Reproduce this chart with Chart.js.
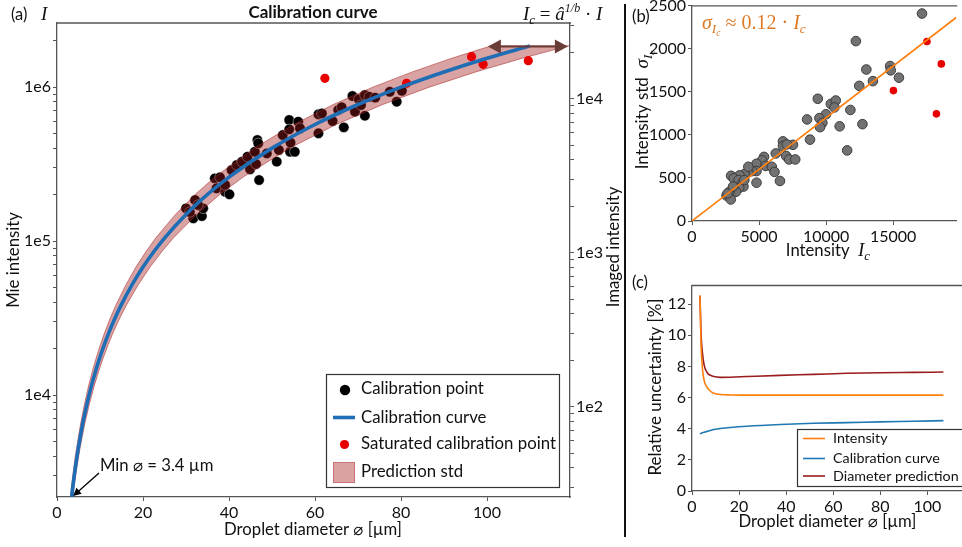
<!DOCTYPE html>
<html>
<head>
<meta charset="utf-8">
<script src="https://cdn.jsdelivr.net/npm/chart.js@4.4.1/dist/chart.umd.min.js"></script>
<style>
  body { margin: 0; background: #fff; width: 962px; height: 547px; overflow: hidden; position: relative; }
  canvas { position: absolute; }
  #sep { position: absolute; left: 624px; top: 4px; width: 2px; height: 533px; background: #111; }
</style>
</head>
<body>
<canvas id="cA" width="625" height="547" style="left:0;top:0"></canvas>
<div id="sep"></div>
<canvas id="cB" width="332" height="270" style="left:630px;top:0"></canvas>
<canvas id="cC" width="332" height="277" style="left:630px;top:270px"></canvas>
<script>
// ---------- panel (a): calibration curve ----------
const calibD = [30.0, 32.1, 31.7, 33.7, 34.0, 30.9, 32.8, 36.7, 37.9, 37.1,
                39.1, 40.1, 39.1, 40.6, 41.8, 43.0, 44.3, 44.9, 46.0, 46.3,
                46.6, 46.8, 47.0, 48.8, 51.1, 51.6, 52.5, 54.2, 55.3, 54.3,
                54.0, 54.0, 56.1, 56.5, 60.8, 60.8, 61.6, 64.1, 65.4, 66.2,
                66.7, 68.7, 69.3, 70.2, 70.7, 71.6, 71.6, 72.6, 74.0, 77.4,
                79.0, 80.2];
const calibI = [163000, 184500, 140300, 145200, 163000, 154300, 171400, 255300, 259200, 219900,
                209000, 201000, 231000, 289000, 311600, 327500, 352600, 292500, 380000, 316000,
                452900, 431000, 248800, 370700, 327500, 390000, 487500, 380000, 380000, 435500,
                610900, 531000, 595600, 539700, 665000, 500400, 674700, 601000, 709700, 738700,
                547000, 874000, 691500, 832000, 764000, 651300, 887000, 865000, 853000, 931300,
                803000, 946000];
const satD = [62.3, 81.3, 96.4, 99.1, 109.6];
const satI = [1138000, 1057000, 1574000, 1403000, 1482000];

const curveD = [3.4, 3.7, 4, 4.5, 5, 6, 7, 8, 9, 10, 11, 12, 13.5, 15, 17.5, 20, 22.5, 25, 30, 35,
                40, 50, 60, 70, 80, 90, 100, 110];
const curveI = [2180, 2565, 2985, 3750, 4600, 6560, 8835, 11460, 14390, 17650, 21240, 25150, 31600, 38780,
                52250, 67730, 85150, 104500, 148800, 200600, 260000, 400900, 571000, 769700, 997700,
                1253000, 1538000, 1850000];
// prediction std band: diameter range at each intensity of the curve
const bandLoD = [3.12, 3.40, 3.67, 4.13, 4.59, 5.51, 6.43, 7.34, 8.26, 9.18, 10.10, 11.02, 12.39, 13.77,
                 16.07, 18.36, 20.66, 22.95, 27.54, 32.13, 36.72, 45.9, 55.08, 64.26, 73.44, 82.62, 91.8, 100.98];
const bandHiD = [3.68, 4.00, 4.33, 4.87, 5.41, 6.49, 7.57, 8.66, 9.74, 10.82, 11.90, 12.98, 14.61, 16.23,
                 18.94, 21.64, 24.35, 27.05, 32.46, 37.87, 43.28, 54.1, 64.92, 75.74, 86.56, 97.38, 108.2, 119.02];

const xTicksA = [0, 20, 40, 60, 80, 100];
const yTicksA = [1e4, 1e5, 1e6];
const yLabelsA = ['1e4', '1e5', '1e6'];
const y2TicksA = [1e2, 1e3, 1e4];
const y2LabelsA = ['1e2', '1e3', '1e4'];
const yMinA = 2177, yMaxA = 2.604e6, imgFactor = 0.0119;
const minD = 3.4, arrowD = [100.2, 118.8], arrowI = 1.83e6;

// ---------- panel (b): intensity std ----------
const grayIc = [17150, 12220, 14770, 14820, 13000, 12470, 13490, 15430, 9380, 10350,
                10720, 10620, 9990, 9500, 8580, 9720, 9550, 11810, 11010, 12710,
                11570, 8800, 6780, 6780, 7530, 7070, 7020, 7240, 7700, 6245,
                5370, 5225, 4810, 5490, 5950, 6150, 6560, 4810, 4810, 4500,
                4200, 3910, 3550, 2915, 3110, 3475, 3720, 3840, 3520, 3280,
                2800, 2575, 2890, 2650, 3060, 4200, 3900];
const graySd = [2410, 2090, 1800, 1750, 1760, 1570, 1625, 1665, 1420, 1360,
                1400, 1320, 1240, 1195, 1180, 1140, 1090, 1290, 1100, 1125,
                820, 945, 925, 870, 885, 890, 755, 715, 715, 785,
                745, 705, 665, 640, 630, 570, 465, 445, 580, 580,
                565, 545, 530, 525, 495, 475, 435, 400, 385, 340,
                340, 295, 250, 320, 400, 630, 475];
const redIc = [17520, 18590, 15020, 18225];
const redSd = [2085, 1825, 1515, 1245];
const fitIc = [0, 19700];
const fitSd = [0, 2364];
const xTicksB = [0, 5000, 10000, 15000];
const yTicksB = [0, 500, 1000, 1500, 2000, 2500];

// ---------- panel (c): relative uncertainty ----------
const uncD = [3.4, 3.8, 4.4, 5.2, 6.4, 7.1, 8.5, 9.2, 12, 16.4, 23.3, 37.5, 51.6, 65.8, 79.9, 94.1, 106.8];
const uncIntensity = [12.55, 9.62, 7.92, 7.07, 6.65, 6.52, 6.33, 6.28, 6.20, 6.17, 6.16, 6.16, 6.16, 6.16, 6.16, 6.16, 6.16];
const uncCalib = [3.67, 3.70, 3.74, 3.78, 3.83, 3.86, 3.92, 3.95, 4.01, 4.08, 4.16, 4.27, 4.35, 4.39, 4.44, 4.48, 4.52];
const uncDiameter = [12.55, 10.25, 8.9, 8.05, 7.62, 7.49, 7.39, 7.35, 7.30, 7.31, 7.35, 7.43, 7.49, 7.56, 7.60, 7.62, 7.64];
const xTicksC = [0, 20, 40, 60, 80, 100];
const yTicksC = [0, 2, 4, 6, 8, 10, 12];

// ---------- styling helpers ----------
const SANS = 'Lato, "DejaVu Sans", sans-serif';
const SERIF = '"Liberation Serif", "DejaVu Serif", serif';
const INK = '#111';
const SPINE = '#555';
const BLUE = '#1f6db5';
Chart.defaults.font.family = SANS;
Chart.defaults.color = INK;

const sans = (size, w) => (w ? w + ' ' : '') + size + 'px ' + SANS;
const ital = size => 'italic ' + size + 'px ' + SERIF;
const rom = size => size + 'px ' + SERIF;

function pts(xs, ys) { return xs.map((x, i) => ({ x, y: ys[i] })); }

function logMarks(min, max) {
  const out = [];
  for (let e = Math.floor(Math.log10(min)); e <= Math.ceil(Math.log10(max)); e++) {
    for (let k = 1; k < 10; k++) {
      const v = k * Math.pow(10, e);
      if (v >= min && v <= max) out.push(v);
    }
  }
  return out;
}

function axis(type, position, min, max, marks, labelOf, size) {
  return {
    type, position, min, max,
    grid: { drawOnChartArea: false, drawTicks: true, tickLength: 4, color: SPINE, lineWidth: 1 },
    border: { display: true, color: SPINE, width: 1.3 },
    ticks: { color: INK, font: { size: 16, family: SANS }, padding: 2, autoSkip: false, maxRotation: 0,
             callback: v => labelOf(v) },
    afterBuildTicks: s => { s.ticks = marks.map(v => ({ value: v })); },
    afterFit: s => {
      if (s.isHorizontal()) s.height = size; else s.width = size;
      s.paddingLeft = s.paddingRight = s.paddingTop = s.paddingBottom = 0;
    }
  };
}
function lookup(vals, labels) {
  return v => {
    const i = vals.findIndex(t => Math.abs(t - v) <= Math.abs(t) * 1e-6);
    return i >= 0 ? (labels ? labels[i] : String(vals[i])) : '';
  };
}

function label(ctx, s, x, y, font, align, color, rot) {
  ctx.save();
  ctx.translate(x, y);
  if (rot) ctx.rotate(rot);
  ctx.font = font;
  ctx.fillStyle = color || INK;
  ctx.textAlign = align || 'left';
  ctx.textBaseline = 'middle';
  ctx.fillText(s, 0, 0);
  ctx.restore();
}
// draws a run of [text, font, dy] pieces on a common baseline
function runs(ctx, parts, x, y, align, color) {
  ctx.save();
  ctx.fillStyle = color || INK;
  ctx.textAlign = 'left';
  ctx.textBaseline = 'alphabetic';
  let w = 0;
  parts.forEach(p => { ctx.font = p[1]; w += ctx.measureText(p[0]).width; });
  let cx = align === 'center' ? x - w / 2 : x;
  parts.forEach(p => {
    ctx.font = p[1];
    ctx.fillText(p[0], cx, y + (p[2] || 0));
    cx += ctx.measureText(p[0]).width;
  });
  ctx.restore();
}
function head(ctx, x0, y0, x1, y1, len, half) {
  const a = Math.atan2(y1 - y0, x1 - x0);
  const bx = x1 - len * Math.cos(a), by = y1 - len * Math.sin(a);
  ctx.beginPath();
  ctx.moveTo(x1, y1);
  ctx.lineTo(bx + half * Math.sin(a), by - half * Math.cos(a));
  ctx.lineTo(bx - half * Math.sin(a), by + half * Math.cos(a));
  ctx.closePath();
  ctx.fill();
}
function topSpine(chart) {
  const { ctx, chartArea: a } = chart;
  ctx.save();
  ctx.strokeStyle = SPINE;
  ctx.lineWidth = 1.3;
  ctx.beginPath();
  ctx.moveTo(a.left, a.top);
  ctx.lineTo(a.right + 1, a.top);
  ctx.stroke();
  ctx.restore();
}

const base = {
  responsive: false, animation: false, devicePixelRatio: 1, events: [],
  plugins: { legend: { display: false }, tooltip: { enabled: false } }
};

// ---------- chart (a) ----------
const bandShape = pts(bandLoD, curveI).concat(pts(bandHiD, curveI).reverse());

new Chart(document.getElementById('cA'), {
  type: 'scatter',
  data: {
    datasets: [
      { type: 'scatter', data: pts(calibD, calibI), backgroundColor: '#000', borderColor: 'rgba(255,255,255,0.7)',
        borderWidth: 0.6, pointRadius: 5.2, fill: false, order: 4 },
      { type: 'line', data: bandShape, fill: 'shape', backgroundColor: 'rgba(160,25,25,0.4)',
        borderColor: 'rgba(170,40,40,0.55)', borderWidth: 1, pointRadius: 0, tension: 0, order: 3 },
      { type: 'scatter', data: pts(satD, satI), backgroundColor: '#e80000', borderColor: '#e80000',
        borderWidth: 0, pointRadius: 4.6, fill: false, order: 2 },
      { type: 'line', data: pts(curveD, curveI), borderColor: BLUE, borderWidth: 3.6, pointRadius: 0,
        cubicInterpolationMode: 'monotone', fill: false, order: 1 }
    ]
  },
  options: Object.assign({}, base, {
    layout: { padding: { top: 23, left: 0, right: 0, bottom: 0 } },
    scales: {
      x: axis('linear', 'bottom', 0, 119.3, xTicksA, lookup(xTicksA), 50),
      y: axis('logarithmic', 'left', yMinA, yMaxA, logMarks(yMinA, yMaxA), lookup(yTicksA, yLabelsA), 57),
      y2: axis('logarithmic', 'right', yMinA * imgFactor, yMaxA * imgFactor,
               logMarks(yMinA * imgFactor, yMaxA * imgFactor), lookup(y2TicksA, y2LabelsA), 55)
    }
  }),
  plugins: [{
    id: 'decorA',
    afterDraw(chart) {
      const { ctx, scales: { x, y } } = chart;
      topSpine(chart);
      label(ctx, '(a)', 11, 15, sans(16.5));
      runs(ctx, [['I', ital(19)]], 41, 20);
      label(ctx, 'Calibration curve', 313, 13, sans(17, 'bold'), 'center');
      runs(ctx, [['I', ital(19)], ['c', ital(13), 4], [' = ', rom(19)], ['â', ital(19)],
                 ['1/b', ital(12), -8], [' · ', rom(19)], ['I', ital(19)]], 523, 20);
      label(ctx, 'Mie intensity', 14, 260, sans(16.7), 'center', INK, -Math.PI / 2);
      label(ctx, 'Imaged intensity', 614, 247, sans(16.7), 'center', INK, -Math.PI / 2);
      label(ctx, 'Droplet diameter ⌀ [µm]', 313, 530, sans(16.7), 'center');

      // minimum diameter annotation
      label(ctx, 'Min ⌀ = 3.4 µm', 100, 466, sans(16.7));
      const tx = x.getPixelForValue(minD) + 1.5, ty = y.getPixelForValue(yMinA) - 1;
      ctx.save();
      ctx.strokeStyle = '#000'; ctx.fillStyle = '#000'; ctx.lineWidth = 1.3;
      ctx.beginPath(); ctx.moveTo(99, 473); ctx.lineTo(tx + 4, ty - 3.5); ctx.stroke();
      head(ctx, 99, 473, tx, ty, 8, 4);
      ctx.restore();

      // double arrow at the top of the prediction band
      const ax0 = x.getPixelForValue(arrowD[0]), ax1 = x.getPixelForValue(arrowD[1]);
      const ay = y.getPixelForValue(arrowI);
      ctx.save();
      ctx.strokeStyle = '#6a3c38'; ctx.fillStyle = '#6a3c38'; ctx.lineWidth = 2;
      ctx.beginPath(); ctx.moveTo(ax0 + 8, ay); ctx.lineTo(ax1 - 8, ay); ctx.stroke();
      head(ctx, ax1, ay, ax0, ay, 13, 7);
      head(ctx, ax0, ay, ax1, ay, 13, 7);
      ctx.restore();

      // legend
      ctx.save();
      ctx.fillStyle = '#fff'; ctx.fillRect(326, 374, 233, 113);
      ctx.strokeStyle = '#333'; ctx.lineWidth = 1.2; ctx.strokeRect(326.5, 374.5, 233, 113);
      ctx.fillStyle = '#000'; ctx.beginPath(); ctx.arc(345, 390, 5.2, 0, Math.PI * 2); ctx.fill();
      ctx.strokeStyle = BLUE; ctx.lineWidth = 3.6;
      ctx.beginPath(); ctx.moveTo(333, 417.5); ctx.lineTo(355, 417.5); ctx.stroke();
      ctx.fillStyle = '#e80000'; ctx.beginPath(); ctx.arc(344.5, 444.5, 4.6, 0, Math.PI * 2); ctx.fill();
      ctx.fillStyle = '#d9a3a3'; ctx.fillRect(333, 462, 22, 21);
      ctx.strokeStyle = '#c87474'; ctx.lineWidth = 1; ctx.strokeRect(333.5, 462.5, 21, 20);
      ctx.restore();
      label(ctx, 'Calibration point', 361, 389, sans(16.8));
      label(ctx, 'Calibration curve', 361, 418, sans(16.8));
      label(ctx, 'Saturated calibration point', 361, 444, sans(16.8));
      label(ctx, 'Prediction std', 361, 472, sans(16.8));
    }
  }]
});

// ---------- chart (b) ----------
new Chart(document.getElementById('cB'), {
  type: 'scatter',
  data: {
    datasets: [
      { type: 'line', data: pts(fitIc, fitSd), borderColor: '#ff7f0e', borderWidth: 1.6, pointRadius: 0,
        fill: false, order: 1 },
      { type: 'scatter', data: pts(grayIc, graySd), backgroundColor: '#727272', borderColor: '#3c3c3c',
        borderWidth: 1, pointRadius: 4.8, fill: false, order: 3 },
      { type: 'scatter', data: pts(redIc, redSd), backgroundColor: '#e80000', borderColor: '#e80000',
        borderWidth: 0, pointRadius: 3.8, fill: false, order: 2 }
    ]
  },
  options: Object.assign({}, base, {
    layout: { padding: { top: 5, left: 0, right: 0, bottom: 0 } },
    scales: {
      x: axis('linear', 'bottom', 0, 19700, xTicksB, lookup(xTicksB), 49),
      y: axis('linear', 'left', 0, 2500, yTicksB, lookup(yTicksB), 62)
    }
  }),
  plugins: [{
    id: 'decorB',
    afterDraw(chart) {
      const { ctx } = chart;
      topSpine(chart);
      label(ctx, '(b)', 2, 17, sans(16.5));
      runs(ctx, [['σ', ital(20)], ['I', ital(13.5), 4], ['c', ital(9.5), 7], [' ≈ 0.12 · ', rom(20)],
                 ['I', ital(20)], ['c', ital(13.5), 4]], 72, 29, 'left', '#dd7a26');
      runs(ctx, [['Intensity  ', sans(16.7)], ['I', ital(19)], ['c', ital(13), 4]], 198, 256, 'center');
      ctx.save();
      ctx.translate(13, 110);
      ctx.rotate(-Math.PI / 2);
      runs(ctx, [['Intensity std  ', sans(17)], ['σ', ital(19)], ['I', ital(13), 4], ['c', ital(9), 7]], 0, 5, 'center');
      ctx.restore();
    }
  }]
});

// ---------- chart (c) ----------
new Chart(document.getElementById('cC'), {
  type: 'scatter',
  data: {
    datasets: [
      { type: 'line', data: pts(uncD, uncIntensity), borderColor: '#ff7f0e', borderWidth: 1.6, pointRadius: 0,
        cubicInterpolationMode: 'monotone', fill: false },
      { type: 'line', data: pts(uncD, uncCalib), borderColor: '#1f77b4', borderWidth: 1.6, pointRadius: 0,
        cubicInterpolationMode: 'monotone', fill: false },
      { type: 'line', data: pts(uncD, uncDiameter), borderColor: '#9a1c1c', borderWidth: 1.6, pointRadius: 0,
        cubicInterpolationMode: 'monotone', fill: false }
    ]
  },
  options: Object.assign({}, base, {
    layout: { padding: { top: 15.5, left: 0, right: 0, bottom: 0 } },
    scales: {
      x: axis('linear', 'bottom', 0, 114.7, xTicksC, lookup(xTicksC), 56),
      y: axis('linear', 'left', 0, 13.2, yTicksC, lookup(yTicksC), 62)
    }
  }),
  plugins: [{
    id: 'decorC',
    afterDraw(chart) {
      const { ctx } = chart;
      topSpine(chart);
      label(ctx, '(c)', 2, 13, sans(16.5));
      label(ctx, 'Relative uncertainty [%]', 26, 117, sans(17), 'center', INK, -Math.PI / 2);
      label(ctx, 'Droplet diameter ⌀ [µm]', 197.5, 252, sans(16.7), 'center');
      ctx.save();
      ctx.fillStyle = '#fff'; ctx.fillRect(167, 159, 170, 57);
      ctx.strokeStyle = '#333'; ctx.lineWidth = 1.2; ctx.strokeRect(167.5, 159.5, 170, 57);
      const items = [['Intensity', '#ff7f0e', 168.5], ['Calibration curve', '#1f77b4', 188.5],
                     ['Diameter prediction', '#9a1c1c', 206]];
      items.forEach(([t, c, yy]) => {
        ctx.strokeStyle = c; ctx.lineWidth = 1.6;
        ctx.beginPath(); ctx.moveTo(173, yy); ctx.lineTo(195, yy); ctx.stroke();
        label(ctx, t, 203, yy, sans(14.3));
      });
      ctx.restore();
    }
  }]
});
</script>
</body>
</html>
